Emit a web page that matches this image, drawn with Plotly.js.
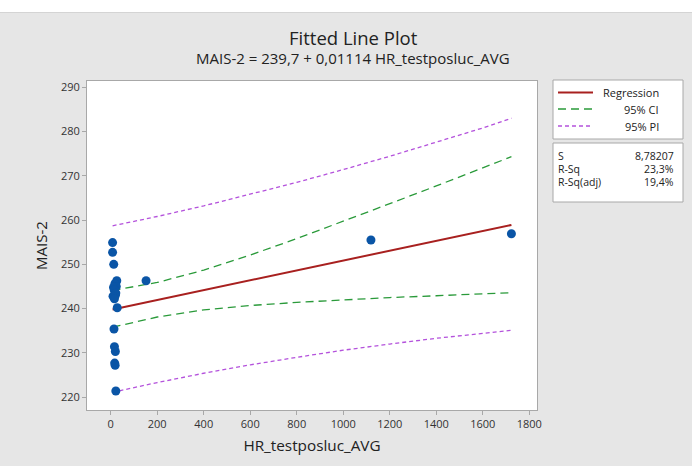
<!DOCTYPE html>
<html>
<head>
<meta charset="utf-8">
<script src="https://cdn.plot.ly/plotly-3.0.1.min.js"></script>
<style>
html,body{margin:0;padding:0;background:#e6e6e6;}
#chart{width:692px;height:466px;}
</style>
</head>
<body>
<div id="chart"></div>
<script>
const obsX = [8, 8, 13, 26, 18, 24, 12, 15, 20, 22, 10, 16, 28, 14, 16, 20, 17, 19, 22, 152, 1119, 1723];
const obsY = [254.9, 252.7, 250.0, 246.3, 245.6, 245.0, 244.8, 244.2, 243.0, 243.5, 242.8, 242.2, 240.2, 235.4, 231.4, 230.3, 227.7, 227.2, 221.4, 246.3, 255.5, 256.9];

// Fitted line end points
const fitX = [8, 1723];
const fitY = [239.8, 258.9];

// Confidence / prediction bands read at these x positions
const bandX  = [8, 200, 400, 600, 800, 1000, 1200, 1400, 1600, 1723];
const ciUp   = [244.1, 245.9, 248.7, 252.1, 255.8, 259.7, 263.7, 267.7, 271.8, 274.3];
const ciLo   = [235.8, 238.1, 239.7, 240.7, 241.4, 242.0, 242.5, 242.9, 243.3, 243.6];
const piUp   = [258.7, 260.8, 263.2, 265.8, 268.5, 271.4, 274.4, 277.6, 280.8, 283.0];
const piLo   = [221.1, 223.3, 225.4, 227.3, 229.0, 230.6, 232.0, 233.3, 234.4, 235.1];

const xTicks = [0, 200, 400, 600, 800, 1000, 1200, 1400, 1600, 1800];
const yTicks = [220, 230, 240, 250, 260, 270, 280, 290];

const legendLabels = ["Regression", "95% CI", "95% PI"];
const statNames = ["S", "R-Sq", "R-Sq(adj)"];
const statValues = ["8,78207", "23,3%", "19,4%"];

const FONT = "Open Sans, Noto Sans, sans-serif";
const RED = "#a8201f", GREEN = "#2a9a3a", PURPLE = "#b452dc", BLUE = "#0a55a6";

// plot area in px: x 87..537, y 81..410
const L = 87, R = 537, T = 81, B = 410;
const px = v => (v - L) / (R - L);
const py = v => (B - v) / (B - T);

const traces = [
  {x: bandX, y: piUp, mode: "lines", line: {color: PURPLE, width: 1.3, dash: "4px,3px"}, hoverinfo: "skip"},
  {x: bandX, y: piLo, mode: "lines", line: {color: PURPLE, width: 1.3, dash: "4px,3px"}, hoverinfo: "skip"},
  {x: bandX, y: ciUp, mode: "lines", line: {color: GREEN, width: 1.3, dash: "8px,5px"}, hoverinfo: "skip"},
  {x: bandX, y: ciLo, mode: "lines", line: {color: GREEN, width: 1.3, dash: "8px,5px"}, hoverinfo: "skip"},
  {x: fitX, y: fitY, mode: "lines", line: {color: RED, width: 2}, hoverinfo: "skip"},
  {x: obsX, y: obsY, mode: "markers", marker: {color: BLUE, size: 9}, hoverinfo: "skip"}
];

const shapes = [
  // white top strip
  {type: "rect", xref: "paper", yref: "paper", x0: px(0), x1: px(692), y0: py(12), y1: py(0), fillcolor: "#ffffff", line: {width: 0}, layer: "below"},
  {type: "line", xref: "paper", yref: "paper", x0: px(0), x1: px(692), y0: py(12.5), y1: py(12.5), line: {color: "#d4d4d4", width: 1}},
  // legend box
  {type: "rect", xref: "paper", yref: "paper", x0: px(553), x1: px(683), y0: py(139), y1: py(80), fillcolor: "#ffffff", line: {color: "#a8a8a8", width: 1}},
  // stats box
  {type: "rect", xref: "paper", yref: "paper", x0: px(553), x1: px(683), y0: py(202), y1: py(143), fillcolor: "#ffffff", line: {color: "#a8a8a8", width: 1}},
  // legend samples
  {type: "line", xref: "paper", yref: "paper", x0: px(558), x1: px(593), y0: py(92.5), y1: py(92.5), line: {color: RED, width: 2}},
  {type: "line", xref: "paper", yref: "paper", x0: px(558), x1: px(593), y0: py(109), y1: py(109), line: {color: GREEN, width: 1.3, dash: "8px,5px"}},
  {type: "line", xref: "paper", yref: "paper", x0: px(558), x1: px(593), y0: py(126), y1: py(126), line: {color: PURPLE, width: 1.3, dash: "4px,3px"}}
];

const annotations = [
  {text: "Fitted Line Plot", xref: "paper", yref: "paper", x: px(353), y: py(38), xanchor: "center", yanchor: "middle", showarrow: false, font: {family: FONT, size: 18.5, color: "#222"}},
  {text: "MAIS-2 = 239,7 + 0,01114 HR_testposluc_AVG", xref: "paper", yref: "paper", x: px(353), y: py(58), xanchor: "center", yanchor: "middle", showarrow: false, font: {family: FONT, size: 15, color: "#222"}}
];
const legY = [92.5, 109, 126];
legendLabels.forEach((t, i) => annotations.push({text: t, xref: "paper", yref: "paper", x: px(661), y: py(legY[i]), xanchor: "right", yanchor: "middle", showarrow: false, font: {family: FONT, size: 11, color: "#222"}}));
const statY = [155.5, 168.5, 181.5];
statNames.forEach((t, i) => {
  annotations.push({text: t, xref: "paper", yref: "paper", x: px(557), y: py(statY[i]), xanchor: "left", yanchor: "middle", showarrow: false, borderpad: 0, font: {family: FONT, size: 10.5, color: "#222"}});
  annotations.push({text: statValues[i], xref: "paper", yref: "paper", x: px(675), y: py(statY[i]), xanchor: "right", yanchor: "middle", showarrow: false, borderpad: 0, font: {family: FONT, size: 10.5, color: "#222"}});
});

const layout = {
  width: 692, height: 466,
  margin: {l: L, r: 692 - R, t: T, b: 466 - B, pad: 0},
  paper_bgcolor: "#e6e6e6",
  plot_bgcolor: "#ffffff",
  showlegend: false,
  font: {family: FONT, size: 11, color: "#333"},
  xaxis: {
    range: [-102, 1833], tickvals: xTicks, ticktext: xTicks.map(String),
    showgrid: false, zeroline: false, showline: true, mirror: true, linecolor: "#a8a8a8", linewidth: 1,
    ticks: "outside", ticklen: 4, tickcolor: "#a8a8a8",
    tickfont: {family: FONT, size: 11, color: "#333"},
    title: {text: "HR_testposluc_AVG", font: {family: FONT, size: 15.3, color: "#222"}, standoff: 10}
  },
  yaxis: {
    range: [217.1, 291.4], tickvals: yTicks, ticktext: yTicks.map(String),
    showgrid: false, zeroline: false, showline: true, mirror: true, linecolor: "#a8a8a8", linewidth: 1,
    ticks: "outside", ticklen: 4, tickcolor: "#a8a8a8",
    tickfont: {family: FONT, size: 11, color: "#333"},
    title: {text: "MAIS-2", font: {family: FONT, size: 15, color: "#222"}, standoff: 9}
  },
  shapes: shapes,
  annotations: annotations
};

Plotly.newPlot("chart", traces, layout, {displayModeBar: false, staticPlot: true});
</script>
</body>
</html>
